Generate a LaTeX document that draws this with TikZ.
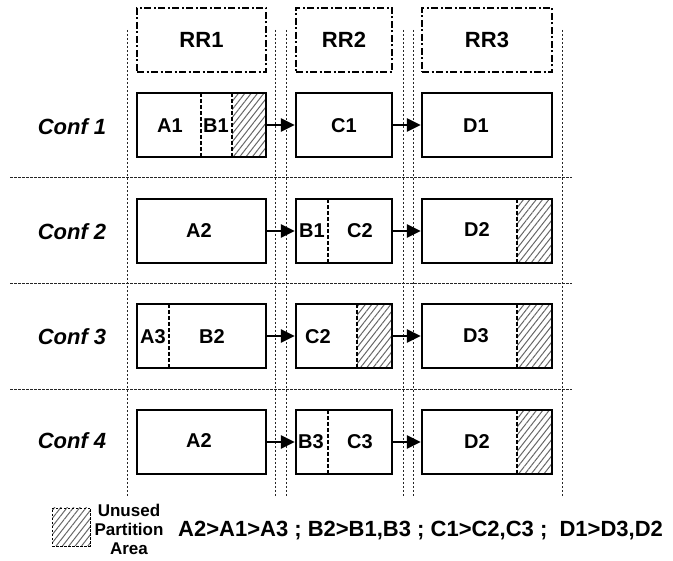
\documentclass[tikz,border=0pt]{standalone}
\usepackage{fontspec}
\setmainfont{Liberation Sans}
\usetikzlibrary{patterns.meta,arrows.meta}
\begin{document}
\begin{tikzpicture}[x=1pt,y=-1pt,
  grid/.style={line width=0.9pt, dash pattern=on 2.5pt off 1.5pt, black!85},
  rrbox/.style={draw, line width=1.8pt, dash pattern=on 7pt off 2.5pt on 2pt off 2.5pt, minimum height=64pt, inner sep=0pt, font=\fontsize{22}{24}\selectfont\bfseries},
  box/.style={draw, line width=2.3pt, inner sep=0pt, minimum height=64pt},
  lbl/.style={font=\fontsize{20}{22}\selectfont\bfseries, inner sep=0pt},
  conf/.style={font=\fontsize{22}{24}\selectfont\bfseries\itshape, inner sep=0pt},
  legtxt/.style={font=\fontsize{17}{19}\selectfont\bfseries, inner sep=0pt, anchor=base},
  divider/.style={line width=1.8pt, dash pattern=on 4pt off 2pt},
  hatch/.style={pattern={Lines[angle=52,distance=5pt,line width=1pt]}, pattern color=black!60},
  link/.style={line width=2.5pt, -{Triangle[length=14pt,width=13pt]}},
  wA/.style={minimum width=129pt},
  wB/.style={minimum width=96pt},
  wC/.style={minimum width=130pt}
]
\useasboundingbox (0,0) rectangle (673,561);

% grid lines
\foreach \x in {127,275,286,403,413,562} \draw[grid] (\x,30) -- (\x,496);
\foreach \y in {177,283,389} \draw[grid] (10,\y) -- (572,\y);

% header boxes
\node[rrbox, wA] (rr1) at (201.5,40) {RR1};
\node[rrbox, wB] (rr2) at (344,40) {RR2};
\node[rrbox, wC] (rr3) at (487,40) {RR3};

% conf labels
\node[conf] (c1) at (72,127) {Conf 1};
\node[conf] (c2) at (72,232) {Conf 2};
\node[conf] (c3) at (72,337) {Conf 3};
\node[conf] (c4) at (72,441) {Conf 4};

% hatched unused areas
\fill[hatch] (232,93) rectangle (266,157);
\fill[hatch] (517,199) rectangle (552,263);
\fill[hatch] (357,304) rectangle (392,368);
\fill[hatch] (517,304) rectangle (552,368);
\fill[hatch] (517,410) rectangle (552,474);

% dividers
\draw[divider] (201,93) -- (201,157);
\draw[divider] (232,93) -- (232,157);
\draw[divider] (328,199) -- (328,263);
\draw[divider] (517,199) -- (517,263);
\draw[divider] (169,304) -- (169,368);
\draw[divider] (357,304) -- (357,368);
\draw[divider] (517,304) -- (517,368);
\draw[divider] (328,410) -- (328,474);
\draw[divider] (517,410) -- (517,474);

% boxes
\node[box, wA] (r1a) at (201.5,125) {};
\node[box, wB] (r1b) at (344,125) {};
\node[box, wC] (r1c) at (487,125) {};
\node[box, wA] (r2a) at (201.5,231) {};
\node[box, wB] (r2b) at (344,231) {};
\node[box, wC] (r2c) at (487,231) {};
\node[box, wA] (r3a) at (201.5,336) {};
\node[box, wB] (r3b) at (344,336) {};
\node[box, wC] (r3c) at (487,336) {};
\node[box, wA] (r4a) at (201.5,442) {};
\node[box, wB] (r4b) at (344,442) {};
\node[box, wC] (r4c) at (487,442) {};

% labels
\node[lbl] (tA1) at (170,126) {A1};
\node[lbl] (tB1) at (216,126) {B1};
\node[lbl] (tC1) at (344,126) {C1};
\node[lbl] (tD1) at (476,126) {D1};
\node[lbl] (tA2) at (199,231) {A2};
\node[lbl] (tB1b) at (312,231) {B1};
\node[lbl] (tC2) at (360,231) {C2};
\node[lbl] (tD2) at (477,230) {D2};
\node[lbl] (tA3) at (153,337) {A3};
\node[lbl] (tB2) at (212,337) {B2};
\node[lbl] (tC2b) at (318,337) {C2};
\node[lbl] (tD3) at (476,336) {D3};
\node[lbl] (tA2b) at (199,441) {A2};
\node[lbl] (tB3) at (311,442) {B3};
\node[lbl] (tC3) at (360,442) {C3};
\node[lbl] (tD2b) at (477,442) {D2};

% arrows
\draw[link] (r1a.east) -- (r1b.west);
\draw[link] (r1b.east) -- (r1c.west);
\draw[link] (r2a.east) -- (r2b.west);
\draw[link] (r2b.east) -- (r2c.west);
\draw[link] (r3a.east) -- (r3b.west);
\draw[link] (r3b.east) -- (r3c.west);
\draw[link] (r4a.east) -- (r4b.west);
\draw[link] (r4b.east) -- (r4c.west);

% legend
\fill[hatch] (52,508) rectangle (90,546);
\node[draw, line width=0.9pt, dash pattern=on 2.5pt off 1.5pt, minimum width=38pt, minimum height=38pt, inner sep=0pt] (leg) at (71,527) {};
\node[legtxt] (lu) at (129,517) {Unused};
\node[legtxt] (lp) at (129,536) {Partition};
\node[legtxt] (la) at (129,555) {Area};
\node[font=\fontsize{22}{24}\selectfont\bfseries, inner sep=0pt, anchor=base west] (form) at (178,537) {A2>A1>A3 ; B2>B1,B3 ; C1>C2,C3 ;\ \ D1>D3,D2};
\end{tikzpicture}
\end{document}
